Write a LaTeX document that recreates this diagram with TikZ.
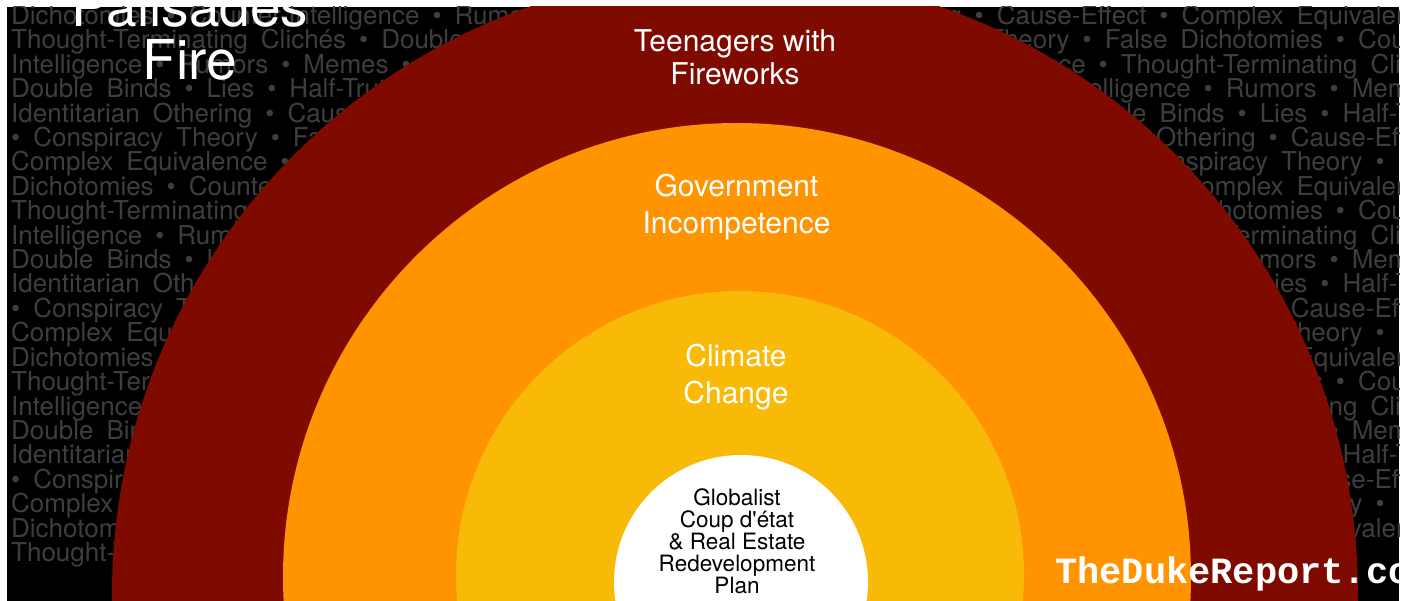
\documentclass[tikz,border=0pt]{standalone}
\usepackage{fontspec}
\setmainfont{TeX Gyre Heros}
\newfontfamily\dukefont{Liberation Mono}
\definecolor{ringred}{RGB}{127,10,0}
\definecolor{ringorange}{RGB}{255,147,0}
\definecolor{ringyellow}{RGB}{248,186,6}
\definecolor{bgtext}{RGB}{62,62,62}
\newcommand\bgfontsel{\fontsize{26}{24.4}\selectfont\spaceskip 13pt\relax}
\newcommand\bgleftA{Dichotomies • Counter-Intelligence • Rumors • Memes • Identitarian Othering}
\newcommand\bgleftB{Thought-Terminating Clichés • Double Binds • Lies • Half-Truths • Rumors}
\newcommand\bgleftC{Intelligence • Rumors • Memes • Identitarian Othering • Cause-Effect}
\newcommand\bgleftD{Double Binds • Lies • Half-Truths • Memes • Identitarian Othering}
\newcommand\bgleftE{Identitarian Othering • Cause-Effect • Complex Equivalence}
\newcommand\bgleftF{• Conspiracy Theory • False Dichotomies • Counter-Intelligence}
\newcommand\bgleftG{Complex Equivalence • Conspiracy Theory • False Dichotomies}
\newcommand\bgrightA{\llap{Identitarian Othering\ }• Cause-Effect • Complex Equivalence • Conspiracy}
\newcommand\bgrightB{\llap{Conspiracy Theory\ }• False Dichotomies • Counter-Intelligence}
\newcommand\bgrightC{\llap{Complex Equivalence\ }• Thought-Terminating Clichés • Double}
\newcommand\bgrightD{\llap{Counter-Intelligence\ }• Rumors • Memes • Identitarian}
\newcommand\bgrightE{\llap{Double Binds\ }• Lies • Half-Truths • Rumors}
\newcommand\bgrightF{\llap{Identitarian Othering\ }• Cause-Effect • Complex}
\newcommand\bgrightG{\llap{Conspiracy Theory\ }• False}
\begin{document}
\begin{tikzpicture}[x=1pt,y=-1pt,
  bg/.style={inner sep=0pt, text=bgtext, font=\bgfontsel},
  ring/.style={circle, inner sep=0pt, draw=none},
  ringlabel/.style={inner sep=0pt, text=white, align=center, font=\fontsize{30}{37}\selectfont},
]
\useasboundingbox (0,0) rectangle (1410,601);
\fill[white] (0,0) rectangle (1410,601);
\begin{scope}
\clip (7,7) rectangle (1399,601);
\fill[black] (7,7) rectangle (1399,601);
% background word texture
\foreach \b in {0,1,2} {
  \pgfmathsetmacro\yo{170.8*\b}
  \node[bg, anchor=base west] (la-\b) at (11,24.6+\yo) {\bgleftA};
  \node[bg, anchor=base west] (lb-\b) at (11,49.0+\yo) {\bgleftB};
  \node[bg, anchor=base west] (lc-\b) at (11,73.4+\yo) {\bgleftC};
  \node[bg, anchor=base west] (ld-\b) at (11,97.8+\yo) {\bgleftD};
  \node[bg, anchor=base west] (le-\b) at (11,122.2+\yo) {\bgleftE};
  \node[bg, anchor=base west] (lf-\b) at (11,146.6+\yo) {\bgleftF};
  \node[bg, anchor=base west] (lg-\b) at (11,171.0+\yo) {\bgleftG};
  \node[bg, anchor=base west] (ra-\b) at (974.5,24.6+\yo) {\bgrightA};
  \node[bg, anchor=base west] (rb-\b) at (1082.5,49.0+\yo) {\bgrightB};
  \node[bg, anchor=base west] (rc-\b) at (1098.5,73.4+\yo) {\bgrightC};
  \node[bg, anchor=base west] (rd-\b) at (1203.5,97.8+\yo) {\bgrightD};
  \node[bg, anchor=base west] (re-\b) at (1237.5,122.2+\yo) {\bgrightE};
  \node[bg, anchor=base west] (rf-\b) at (1268.5,146.6+\yo) {\bgrightF};
  \node[bg, anchor=base west] (rg-\b) at (1375.5,171.0+\yo) {\bgrightG};
}
\node[bg, anchor=base west] (la-3) at (11,537.0) {\bgleftA};
\node[bg, anchor=base west] (ra-3) at (974.5,537.0) {\bgrightA};
\node[bg, anchor=base west] (lb-3) at (11,561.4) {\bgleftB};
% rings
\node[ring, fill=ringred, minimum size=1246pt] (outer) at (735,595) {};
\node[ring, fill=ringorange, minimum size=908pt] (middle) at (737,577) {};
\node[ring, fill=ringyellow, minimum size=568pt] (inner) at (740,575) {};
\node[ring, fill=white, minimum size=254pt] (core) at (741,582) {};
% ring labels (base anchor = baseline of the last line)
\node[ringlabel, anchor=base, font=\fontsize{30}{33}\selectfont] (teen) at (735,85) {Teenagers with\\Fireworks};
\node[ringlabel, anchor=base] (gov) at (736.5,234) {Government\\Incompetence};
\node[ringlabel, anchor=base] (clim) at (736,403) {Climate\\Change};
\node[inner sep=0pt, text=black, align=center, anchor=base, font=\fontsize{22.5}{21.8}\selectfont] (plan) at (737,593) {Globalist\\Coup d\textquotesingle état\\\& Real Estate\\Redevelopment\\Plan};
% title and credit
\node[inner sep=0pt, text=white, align=center, anchor=base, font=\fontsize{55}{53}\selectfont] (title) at (190,80) {Palisades\\Fire};
\node[inner sep=0pt, text=white, anchor=base west, font=\dukefont\bfseries\fontsize{37}{37}\selectfont] (duke) at (1055,583) {TheDukeReport.com};
\end{scope}
\end{tikzpicture}
\end{document}
